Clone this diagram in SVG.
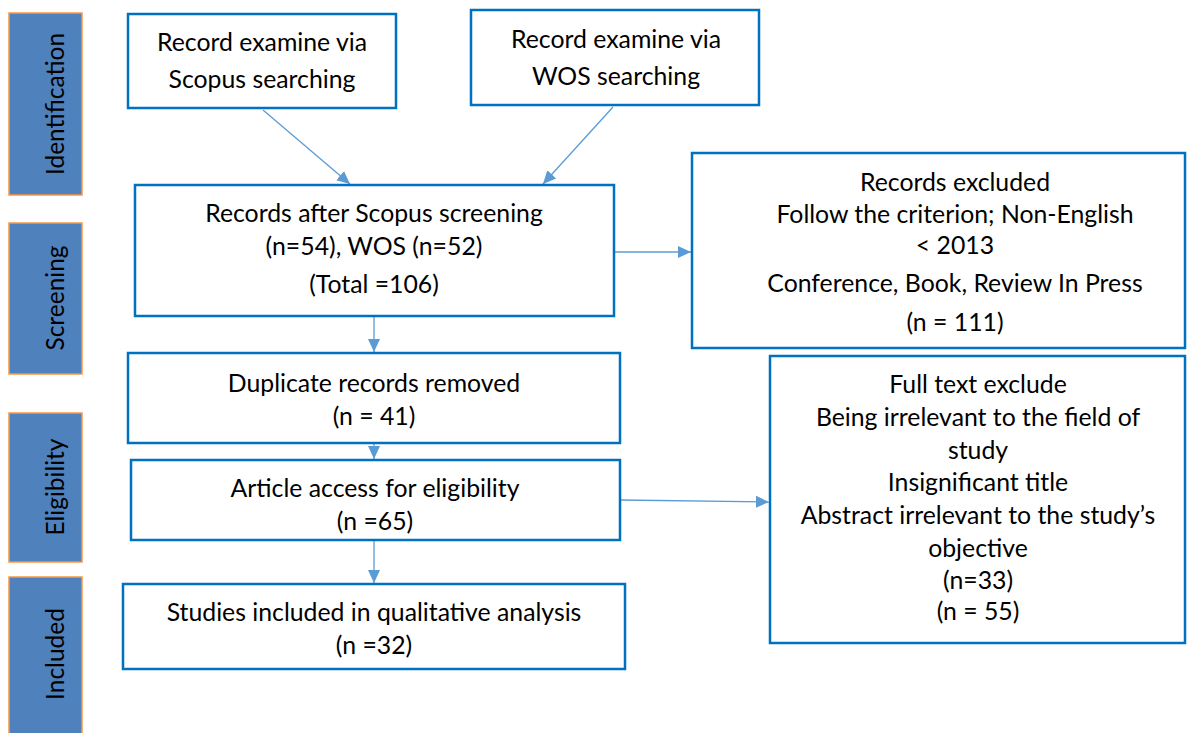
<svg xmlns="http://www.w3.org/2000/svg" width="1188" height="733" viewBox="0 0 1188 733">
<style>
.bar{fill:#4f81bd;stroke:#f79646;stroke-width:1.5}
.box{fill:#fff;stroke:#0070c0;stroke-width:2.5}
.t{font-family:Lato,"Liberation Sans",sans-serif;font-size:24.8px;fill:#000;text-anchor:middle}
.st{font-family:Lato,"Liberation Sans",sans-serif;font-size:24.5px;fill:#000;text-anchor:middle}
.c{stroke:#5b9bd5;stroke-width:1.3;fill:none;marker-end:url(#ah)}
</style>
<defs>
<marker id="ah" markerWidth="14" markerHeight="14" refX="13" refY="7" orient="auto" markerUnits="userSpaceOnUse">
<path d="M0,1 L13,7 L0,13 Z" fill="#5b9bd5"/>
</marker>
</defs>
<rect width="1188" height="733" fill="#fff"/>
<g id="stage-identification"><rect class="bar" x="9" y="13" width="73" height="182"/><text class="st" transform="translate(56,104) rotate(-90)" dy="8">Identification</text></g>
<g id="stage-screening"><rect class="bar" x="9" y="223" width="73" height="151"/><text class="st" transform="translate(56,298) rotate(-90)" dy="8">Screening</text></g>
<g id="stage-eligibility"><rect class="bar" x="9" y="413" width="73" height="149"/><text class="st" transform="translate(56,487) rotate(-90)" dy="8">Eligibility</text></g>
<g id="stage-included"><rect class="bar" x="9" y="577" width="73" height="160"/><text class="st" transform="translate(56,654) rotate(-90)" dy="8">Included</text></g>
<g id="connectors">
<line class="c" x1="263" y1="110" x2="350" y2="184"/>
<line class="c" x1="613" y1="107" x2="543" y2="184"/>
<line class="c" x1="614" y1="252" x2="691" y2="252"/>
<line class="c" x1="374" y1="317" x2="374" y2="352"/>
<line class="c" x1="374" y1="444" x2="374" y2="459"/>
<line class="c" x1="620" y1="500" x2="769" y2="502"/>
<line class="c" x1="374" y1="541" x2="374" y2="583"/>
</g>
<g id="scopus"><rect class="box" x="128" y="14" width="268" height="94"/><text class="t" x="262" y="51">Record examine via</text><text class="t" x="262" y="88">Scopus searching</text></g>
<g id="wos"><rect class="box" x="471" y="10" width="288" height="95"/><text class="t" x="616" y="48">Record examine via</text><text class="t" x="616" y="85">WOS searching</text></g>
<g id="after-screening"><rect class="box" x="135" y="185" width="479" height="131"/><text class="t" x="374" y="222">Records after Scopus screening</text><text class="t" x="374" y="255">(n=54), WOS (n=52)</text><text class="t" x="374" y="293">(Total =106)</text></g>
<g id="records-excluded"><rect class="box" x="692" y="153" width="493" height="195"/><text class="t" x="955" y="191">Records excluded</text><text class="t" x="955" y="223">Follow the criterion; Non-English</text><text class="t" x="955" y="254">&lt; 2013</text><text class="t" x="955" y="292">Conference, Book, Review In Press</text><text class="t" x="955" y="331">(n = 111)</text></g>
<g id="duplicates"><rect class="box" x="128" y="353" width="492" height="90"/><text class="t" x="374" y="392">Duplicate records removed</text><text class="t" x="374" y="425">(n = 41)</text></g>
<g id="article-access"><rect class="box" x="131" y="460" width="489" height="80"/><text class="t" x="375" y="497">Article access for eligibility</text><text class="t" x="375" y="530">(n =65)</text></g>
<g id="full-text-exclude"><rect class="box" x="770" y="356" width="415" height="287"/><text class="t" x="978" y="393">Full text exclude</text><text class="t" x="978" y="426">Being irrelevant to the field of</text><text class="t" x="978" y="459">study</text><text class="t" x="978" y="491">Insignificant title</text><text class="t" x="978" y="524">Abstract irrelevant to the study’s</text><text class="t" x="978" y="557">objective</text><text class="t" x="978" y="589">(n=33)</text><text class="t" x="978" y="620">(n = 55)</text></g>
<g id="included-studies"><rect class="box" x="123" y="584" width="502" height="85"/><text class="t" x="374" y="621">Studies included in qualitative analysis</text><text class="t" x="374" y="654">(n =32)</text></g>
</svg>
